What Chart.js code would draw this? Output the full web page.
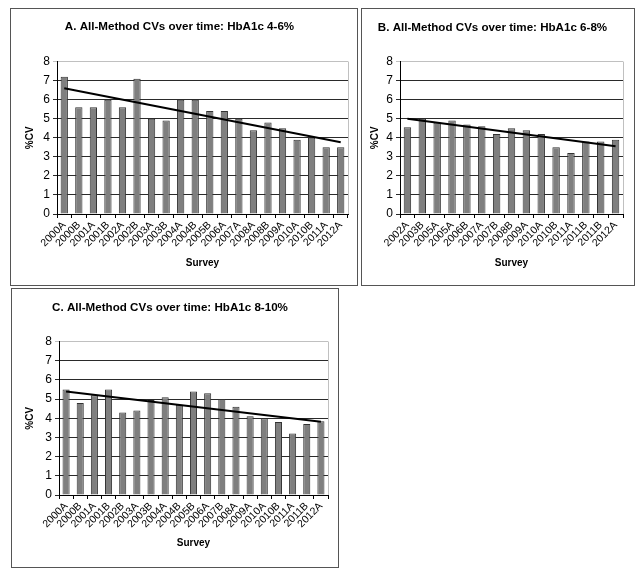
<!DOCTYPE html>
<html>
<head>
<meta charset="utf-8">
<script src="https://cdn.jsdelivr.net/npm/chart.js@4.4.0/dist/chart.umd.min.js"></script>
<style>
  body { margin: 0; background: #fff; width: 642px; height: 576px; position: relative; overflow: hidden; }
  .panel { position: absolute; border: 1px solid #555; background: #fff; box-sizing: border-box; }
  .panel canvas { display: block; }
</style>
</head>
<body>
<div class="panel" style="left:10px;top:8px;width:348px;height:278px"><canvas id="chartA"></canvas></div>
<div class="panel" style="left:361px;top:8px;width:274px;height:278px"><canvas id="chartB"></canvas></div>
<div class="panel" style="left:11px;top:288px;width:328px;height:280px"><canvas id="chartC"></canvas></div>
<script>
// Survey CVs
const labelsA = ['2000A','2000B','2001A','2001B','2002A','2002B','2003A','2003B','2004A','2004B',
                 '2005B','2006A','2007A','2008A','2008B','2009A','2010A','2010B','2011A','2012A'];
const cvA     = [7.2, 5.6, 5.6, 6.0, 5.6, 7.1, 5.0, 4.9, 6.0, 6.0,
                 5.4, 5.4, 5.0, 4.4, 4.8, 4.5, 3.9, 4.0, 3.5, 3.5];
const trendA  = [6.6, 3.76];   // trend line at first / last survey

const labelsB = ['2002A','2003B','2005A','2005A','2006B','2007A','2007B','2008B','2009A','2010A',
                 '2010B','2011A','2011B','2011B','2012A'];
const cvB     = [4.55, 5.0, 4.8, 4.9, 4.7, 4.6, 4.2, 4.5, 4.4, 4.2,
                 3.5, 3.2, 3.8, 3.8, 3.9];
const trendB  = [5.0, 3.56];

const labelsC = ['2000A','2000B','2001A','2001B','2002B','2003A','2003B','2004A','2004B','2005B',
                 '2006A','2007B','2008A','2009A','2010A','2010B','2011A','2011B','2012A'];
const cvC     = [5.5, 4.8, 5.2, 5.5, 4.3, 4.4, 4.95, 5.1, 4.7, 5.4,
                 5.3, 5.0, 4.6, 4.1, 4.0, 3.8, 3.2, 3.7, 3.85];
const trendC  = [5.4, 3.82];

const yTicks = [0, 1, 2, 3, 4, 5, 6, 7, 8];

const FONT = "'Liberation Sans', Arial, sans-serif";

// light grey frame on the right side of the plot area
const plotFrame = {
  id: 'plotFrame',
  beforeDatasetsDraw(chart) {
    const a = chart.chartArea, c = chart.ctx;
    c.save();
    c.strokeStyle = '#c0c0c0';
    c.lineWidth = 1;
    c.beginPath();
    c.moveTo(a.right + 0.5, a.top);
    c.lineTo(a.right + 0.5, a.bottom);
    c.stroke();
    c.restore();
  }
};

function makeChart(id, title, labels, values, trend, g) {
  const n = labels.length;
  const trendData = labels.map((_, i) => i === 0 ? trend[0] : (i === n - 1 ? trend[1] : null));
  return new Chart(document.getElementById(id), {
    data: {
      labels: labels,
      datasets: [
        { type: 'line', data: trendData, spanGaps: true, borderColor: '#000', borderWidth: 2,
          pointRadius: 0, tension: 0, order: 0 },
        { type: 'bar', data: values, backgroundColor: '#7f7f7f', borderColor: '#333', borderWidth: 1,
          barPercentage: 0.5, categoryPercentage: 1, order: 1 }
      ]
    },
    options: {
      responsive: true, maintainAspectRatio: false, animation: false,
      layout: { padding: { left: 0, right: g.padRight, top: 0, bottom: 0 } },
      plugins: {
        legend: { display: false },
        tooltip: { enabled: false },
        title: {
          display: true, text: title, color: '#000',
          font: { family: FONT, size: 11.6, weight: 'bold' },
          padding: { top: g.titleTop, bottom: g.titleBottom }
        }
      },
      scales: {
        x: {
          afterFit: s => { s.height = g.xHeight; },
          grid: { offset: true, drawOnChartArea: false, color: '#000', tickLength: 4 },
          border: { color: '#000' },
          ticks: { autoSkip: false, minRotation: 45, maxRotation: 45, color: '#000', padding: 1,
                   font: { family: FONT, size: 10.5 } },
          title: { display: true, text: 'Survey', color: '#000', padding: { top: 0, bottom: g.xTitle },
                   font: { family: FONT, size: 10, weight: 'bold' } }
        },
        y: {
          min: 0, max: 8,
          afterFit: s => { s.width = g.yWidth; },
          afterBuildTicks: s => { s.ticks = yTicks.map(v => ({ value: v })); },
          grid: { color: c => (c.tick && c.tick.value === 8) ? '#c0c0c0' : '#2a2a2a', tickLength: 4 },
          border: { color: '#000' },
          ticks: { color: '#000', padding: 3, font: { family: FONT, size: 12 } },
          title: { display: true, text: '%CV', color: '#000', padding: { top: g.yTitle, bottom: 0 },
                   font: { family: FONT, size: 10, weight: 'bold' } }
        }
      }
    },
    plugins: [plotFrame]
  });
}

makeChart('chartA', 'A. All-Method CVs over time: HbA1c 4-6%', labelsA, cvA, trendA,
  { yWidth: 46, padRight: 9, xHeight: 71, titleTop: 11, titleBottom: 27.6, yTitle: 13, xTitle: 16 });
makeChart('chartB', 'B. All-Method CVs over time: HbA1c 6-8%', labelsB, cvB, trendB,
  { yWidth: 38, padRight: 11, xHeight: 71, titleTop: 12, titleBottom: 26.6, yTitle: 7, xTitle: 16 });
makeChart('chartC', 'C. All-Method CVs over time: HbA1c 8-10%', labelsC, cvC, trendC,
  { yWidth: 47, padRight: 10, xHeight: 72, titleTop: 12, titleBottom: 26.6, yTitle: 12, xTitle: 18 });
</script>
</body>
</html>
